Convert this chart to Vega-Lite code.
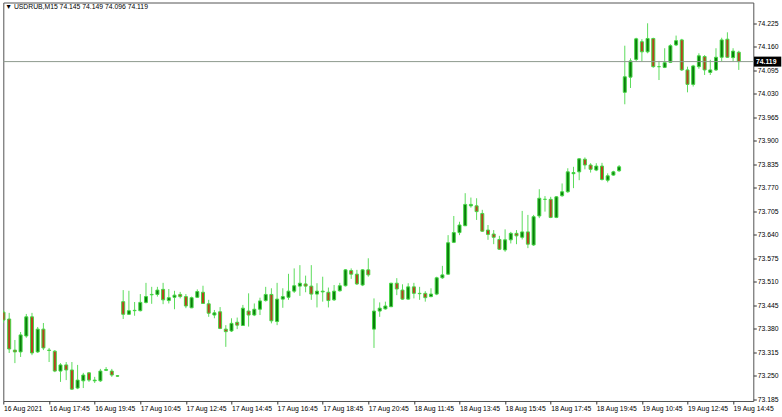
{
"$schema": "https://vega.github.io/schema/vega-lite/v6.json",
"width": 750,
"height": 398.5,
"autosize": "none",
"padding": {"left": 3.3, "top": 2.5, "right": 28.7, "bottom": 16},
"background": "white",
"config": {
"view": {"stroke": "#555555", "strokeWidth": 1},
"font": "Liberation Sans",
"scale": {"continuousPadding": 0},
"axis": {"title": null, "domain": false, "grid": false, "tickSize": 3, "tickColor": "#333333", "labelFontSize": 6.8, "labelFont": "Liberation Sans", "labelColor": "black", "labelOverlap": false, "labelBound": false, "labelFlush": false}
},
"title": {"text": "▼ USDRUB,M15  74.145 74.149 74.096 74.119", "anchor": "start", "frame": "group", "orient": "top", "offset": -14, "baseline": "bottom", "fontSize": 6.8, "fontWeight": "normal", "color": "black", "font": "Liberation Sans", "dx": 2},
"datasets": {
"candles": [
{"i":1,"o":73.426,"h":73.432,"l":73.396,"c":73.404},
{"i":2,"o":73.407,"h":73.424,"l":73.313,"c":73.324},
{"i":3,"o":73.321,"h":73.349,"l":73.285,"c":73.316},
{"i":4,"o":73.316,"h":73.371,"l":73.302,"c":73.363},
{"i":5,"o":73.360,"h":73.421,"l":73.355,"c":73.413},
{"i":6,"o":73.413,"h":73.424,"l":73.307,"c":73.313},
{"i":7,"o":73.316,"h":73.385,"l":73.313,"c":73.379},
{"i":8,"o":73.379,"h":73.396,"l":73.321,"c":73.327},
{"i":9,"o":73.321,"h":73.327,"l":73.288,"c":73.320},
{"i":10,"o":73.318,"h":73.321,"l":73.260,"c":73.263},
{"i":11,"o":73.263,"h":73.285,"l":73.233,"c":73.280},
{"i":12,"o":73.280,"h":73.288,"l":73.238,"c":73.266},
{"i":13,"o":73.266,"h":73.288,"l":73.211,"c":73.213},
{"i":14,"o":73.216,"h":73.280,"l":73.213,"c":73.238},
{"i":15,"o":73.236,"h":73.258,"l":73.216,"c":73.252},
{"i":16,"o":73.258,"h":73.260,"l":73.233,"c":73.238},
{"i":17,"o":73.236,"h":73.247,"l":73.230,"c":73.238},
{"i":18,"o":73.236,"h":73.269,"l":73.233,"c":73.263},
{"i":19,"o":73.265,"h":73.274,"l":73.263,"c":73.267},
{"i":20,"o":73.263,"h":73.269,"l":73.247,"c":73.252},
{"i":21,"o":73.250,"h":73.252,"l":73.247,"c":73.249},
{"i":22,"o":73.455,"h":73.487,"l":73.407,"c":73.420},
{"i":23,"o":73.420,"h":73.485,"l":73.418,"c":73.430},
{"i":24,"o":73.430,"h":73.454,"l":73.416,"c":73.431},
{"i":25,"o":73.430,"h":73.476,"l":73.428,"c":73.453},
{"i":26,"o":73.453,"h":73.507,"l":73.450,"c":73.469},
{"i":27,"o":73.474,"h":73.496,"l":73.449,"c":73.475},
{"i":28,"o":73.475,"h":73.496,"l":73.469,"c":73.487},
{"i":29,"o":73.489,"h":73.507,"l":73.448,"c":73.460},
{"i":30,"o":73.458,"h":73.490,"l":73.450,"c":73.466},
{"i":31,"o":73.467,"h":73.485,"l":73.434,"c":73.473},
{"i":32,"o":73.475,"h":73.482,"l":73.464,"c":73.469},
{"i":33,"o":73.469,"h":73.476,"l":73.437,"c":73.443},
{"i":34,"o":73.438,"h":73.469,"l":73.437,"c":73.466},
{"i":35,"o":73.467,"h":73.489,"l":73.465,"c":73.483},
{"i":36,"o":73.481,"h":73.499,"l":73.449,"c":73.450},
{"i":37,"o":73.449,"h":73.460,"l":73.413,"c":73.423},
{"i":38,"o":73.418,"h":73.432,"l":73.409,"c":73.424},
{"i":39,"o":73.427,"h":73.440,"l":73.379,"c":73.381},
{"i":40,"o":73.379,"h":73.390,"l":73.330,"c":73.372},
{"i":41,"o":73.374,"h":73.409,"l":73.371,"c":73.395},
{"i":42,"o":73.398,"h":73.411,"l":73.379,"c":73.390},
{"i":43,"o":73.389,"h":73.446,"l":73.388,"c":73.437},
{"i":44,"o":73.429,"h":73.478,"l":73.386,"c":73.418},
{"i":45,"o":73.418,"h":73.450,"l":73.415,"c":73.434},
{"i":46,"o":73.434,"h":73.466,"l":73.418,"c":73.457},
{"i":47,"o":73.458,"h":73.496,"l":73.455,"c":73.475},
{"i":48,"o":73.475,"h":73.492,"l":73.395,"c":73.402},
{"i":49,"o":73.400,"h":73.507,"l":73.390,"c":73.462},
{"i":50,"o":73.462,"h":73.492,"l":73.438,"c":73.469},
{"i":51,"o":73.467,"h":73.532,"l":73.460,"c":73.484},
{"i":52,"o":73.484,"h":73.547,"l":73.479,"c":73.499},
{"i":53,"o":73.498,"h":73.556,"l":73.471,"c":73.506},
{"i":54,"o":73.504,"h":73.527,"l":73.481,"c":73.498},
{"i":55,"o":73.498,"h":73.556,"l":73.460,"c":73.476},
{"i":56,"o":73.476,"h":73.506,"l":73.439,"c":73.484},
{"i":57,"o":73.482,"h":73.524,"l":73.455,"c":73.484},
{"i":58,"o":73.481,"h":73.494,"l":73.439,"c":73.458},
{"i":59,"o":73.460,"h":73.501,"l":73.457,"c":73.484},
{"i":60,"o":73.485,"h":73.507,"l":73.483,"c":73.499},
{"i":61,"o":73.499,"h":73.545,"l":73.497,"c":73.543},
{"i":62,"o":73.541,"h":73.547,"l":73.518,"c":73.531},
{"i":63,"o":73.531,"h":73.543,"l":73.501,"c":73.504},
{"i":64,"o":73.501,"h":73.545,"l":73.498,"c":73.543},
{"i":65,"o":73.543,"h":73.575,"l":73.524,"c":73.529},
{"i":66,"o":73.379,"h":73.464,"l":73.327,"c":73.429},
{"i":67,"o":73.429,"h":73.453,"l":73.413,"c":73.437},
{"i":68,"o":73.435,"h":73.455,"l":73.433,"c":73.443},
{"i":69,"o":73.441,"h":73.507,"l":73.440,"c":73.506},
{"i":70,"o":73.506,"h":73.520,"l":73.473,"c":73.490},
{"i":71,"o":73.487,"h":73.503,"l":73.460,"c":73.462},
{"i":72,"o":73.462,"h":73.506,"l":73.460,"c":73.496},
{"i":73,"o":73.496,"h":73.507,"l":73.464,"c":73.478},
{"i":74,"o":73.478,"h":73.496,"l":73.460,"c":73.477},
{"i":75,"o":73.478,"h":73.484,"l":73.455,"c":73.466},
{"i":76,"o":73.469,"h":73.492,"l":73.467,"c":73.476},
{"i":77,"o":73.476,"h":73.524,"l":73.473,"c":73.521},
{"i":78,"o":73.521,"h":73.554,"l":73.518,"c":73.529},
{"i":79,"o":73.531,"h":73.639,"l":73.529,"c":73.618},
{"i":80,"o":73.619,"h":73.692,"l":73.617,"c":73.646},
{"i":81,"o":73.646,"h":73.676,"l":73.639,"c":73.667},
{"i":82,"o":73.665,"h":73.755,"l":73.664,"c":73.724},
{"i":83,"o":73.720,"h":73.743,"l":73.715,"c":73.724},
{"i":84,"o":73.720,"h":73.741,"l":73.681,"c":73.704},
{"i":85,"o":73.699,"h":73.709,"l":73.648,"c":73.650},
{"i":86,"o":73.653,"h":73.667,"l":73.626,"c":73.641},
{"i":87,"o":73.642,"h":73.653,"l":73.614,"c":73.633},
{"i":88,"o":73.627,"h":73.637,"l":73.598,"c":73.600},
{"i":89,"o":73.598,"h":73.655,"l":73.593,"c":73.626},
{"i":90,"o":73.626,"h":73.648,"l":73.616,"c":73.644},
{"i":91,"o":73.644,"h":73.653,"l":73.614,"c":73.637},
{"i":92,"o":73.633,"h":73.706,"l":73.627,"c":73.648},
{"i":93,"o":73.648,"h":73.695,"l":73.603,"c":73.614},
{"i":94,"o":73.612,"h":73.695,"l":73.609,"c":73.690},
{"i":95,"o":73.692,"h":73.766,"l":73.686,"c":73.741},
{"i":96,"o":73.738,"h":73.747,"l":73.704,"c":73.738},
{"i":97,"o":73.738,"h":73.745,"l":73.686,"c":73.688},
{"i":98,"o":73.688,"h":73.747,"l":73.686,"c":73.745},
{"i":99,"o":73.748,"h":73.782,"l":73.745,"c":73.759},
{"i":100,"o":73.759,"h":73.824,"l":73.756,"c":73.814},
{"i":101,"o":73.809,"h":73.828,"l":73.769,"c":73.812},
{"i":102,"o":73.814,"h":73.852,"l":73.791,"c":73.850},
{"i":103,"o":73.849,"h":73.854,"l":73.821,"c":73.833},
{"i":104,"o":73.833,"h":73.838,"l":73.812,"c":73.821},
{"i":105,"o":73.819,"h":73.838,"l":73.816,"c":73.830},
{"i":106,"o":73.830,"h":73.839,"l":73.790,"c":73.793},
{"i":107,"o":73.791,"h":73.810,"l":73.785,"c":73.803},
{"i":108,"o":73.805,"h":73.817,"l":73.803,"c":73.814},
{"i":109,"o":73.817,"h":73.833,"l":73.814,"c":73.828},
{"i":110,"o":74.034,"h":74.163,"l":74.001,"c":74.077},
{"i":111,"o":74.076,"h":74.128,"l":74.046,"c":74.121},
{"i":112,"o":74.125,"h":74.185,"l":74.119,"c":74.182},
{"i":113,"o":74.174,"h":74.181,"l":74.119,"c":74.146},
{"i":114,"o":74.146,"h":74.225,"l":74.142,"c":74.183},
{"i":115,"o":74.183,"h":74.185,"l":74.102,"c":74.105},
{"i":116,"o":74.105,"h":74.121,"l":74.068,"c":74.105},
{"i":117,"o":74.103,"h":74.156,"l":74.101,"c":74.116},
{"i":118,"o":74.117,"h":74.167,"l":74.115,"c":74.163},
{"i":119,"o":74.165,"h":74.191,"l":74.162,"c":74.177},
{"i":120,"o":74.179,"h":74.182,"l":74.093,"c":74.096},
{"i":121,"o":74.096,"h":74.105,"l":74.034,"c":74.056},
{"i":122,"o":74.056,"h":74.110,"l":74.050,"c":74.107},
{"i":123,"o":74.105,"h":74.142,"l":74.099,"c":74.135},
{"i":124,"o":74.133,"h":74.137,"l":74.082,"c":74.096},
{"i":125,"o":74.089,"h":74.124,"l":74.082,"c":74.096},
{"i":126,"o":74.096,"h":74.156,"l":74.093,"c":74.131},
{"i":127,"o":74.131,"h":74.185,"l":74.119,"c":74.179},
{"i":128,"o":74.181,"h":74.200,"l":74.129,"c":74.131},
{"i":129,"o":74.130,"h":74.156,"l":74.119,"c":74.148},
{"i":130,"o":74.145,"h":74.149,"l":74.096,"c":74.119}
],
"last": [{"price": 74.119}]
},
"layer": [
{
"data": {"name": "candles"},
"mark": {"type": "rule", "color": "#5ddc5d", "strokeWidth": 1, "clip": true},
"encoding": {
"x": {"field": "i", "type": "quantitative",
"scale": {"domain": [0.965, 132.545], "nice": false, "zero": false, "padding": 0},
"axis": {"values": [1,9,17,25,33,41,49,57,65,73,81,89,97,105,113,121,129], "tickCount": 30,
"labelExpr": "['16 Aug 2021','16 Aug 17:45','16 Aug 19:45','17 Aug 10:45','17 Aug 12:45','17 Aug 14:45','17 Aug 16:45','17 Aug 18:45','17 Aug 20:45','18 Aug 11:45','18 Aug 13:45','18 Aug 15:45','18 Aug 17:45','18 Aug 19:45','19 Aug 10:45','19 Aug 12:45','19 Aug 14:45'][round((datum.value-1)/8)]",
"labelAlign": "left", "labelBaseline": "top", "labelDx": 1.5, "labelPadding": 1.5, "labelOverlap": false}},
"y": {"field": "l", "type": "quantitative",
"scale": {"domain": [73.1802, 74.2825], "nice": false, "zero": false, "padding": 0},
"axis": {"orient": "right", "values": [73.185,73.25,73.315,73.38,73.445,73.51,73.575,73.64,73.705,73.77,73.835,73.9,73.965,74.03,74.095,74.16,74.225], "tickCount": 30,
"format": ".3f", "labelPadding": 1, "labelBaseline": "middle", "labelOverlap": false}},
"y2": {"field": "h"}
}
},
{
"data": {"name": "candles"},
"mark": {"type": "bar", "size": 3, "stroke": "#45d845", "strokeWidth": 1, "clip": true},
"encoding": {
"x": {"field": "i", "type": "quantitative"},
"y": {"field": "o", "type": "quantitative"},
"y2": {"field": "c"},
"fill": {"condition": {"test": "datum.c >= datum.o", "value": "#0b7d0b"}, "value": "#b8401e"}
}
},
{
"data": {"name": "last"},
"mark": {"type": "rule", "color": "#8e9a8e", "strokeWidth": 1},
"encoding": {
"y": {"field": "price", "type": "quantitative"}
}
},
{
"data": {"name": "last"},
"mark": {"type": "bar", "color": "black", "size": 10, "clip": false, "orient": "horizontal"},
"encoding": {
"x": {"datum": 132.67, "type": "quantitative"},
"x2": {"datum": 137.45},
"y": {"field": "price", "type": "quantitative"}
}
},
{
"data": {"name": "last"},
"mark": {"type": "text", "align": "left", "baseline": "middle", "dx": 2, "color": "white", "fontSize": 6.8, "fontWeight": "bold", "font": "Liberation Sans", "clip": false},
"encoding": {
"x": {"datum": 132.67, "type": "quantitative"},
"y": {"field": "price", "type": "quantitative"},
"text": {"field": "price", "type": "quantitative", "format": ".3f"}
}
}
]
}
